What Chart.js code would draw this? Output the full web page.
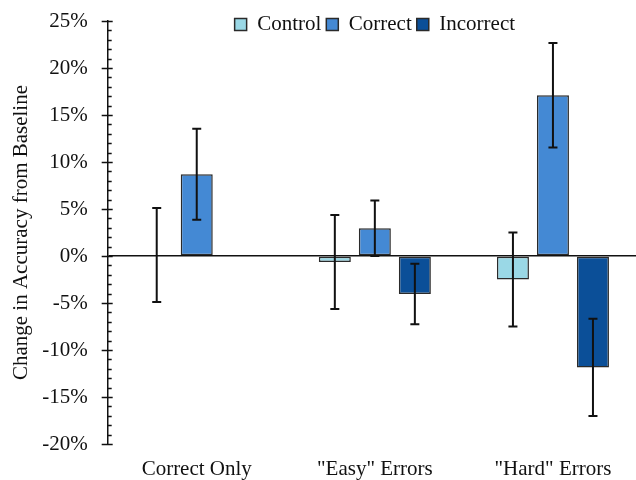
<!DOCTYPE html>
<html>
<head>
<meta charset="utf-8">
<script src="https://cdn.jsdelivr.net/npm/chart.js@4"></script>
<style>
  html, body { margin: 0; padding: 0; background: #fff; overflow: hidden; width: 636px; height: 480px; }
  #wrap { position: absolute; left: 0; top: 0; width: 642px; height: 480px; }
</style>
</head>
<body>
<div id="wrap"><canvas id="c"></canvas></div>
<script>
const categories = ['Correct Only', '"Easy" Errors', '"Hard" Errors'];
const seriesNames = ['Control', 'Correct', 'Incorrect'];
const controlValues = [0.1, -0.65, -2.5];
const controlErrors = [5.0, 5.0, 5.0];
const correctValues = [8.7, 2.95, 17.1];
const correctErrors = [4.85, 2.95, 5.55];
const incorrectValues = [null, -4.05, -11.85];
const incorrectErrors = [null, 3.22, 5.17];
const yTickMin = -20;
const yTickMax = 25;
const yTickStep = 5;
const yMinorStep = 1;

const FONT = 'Liberation Serif';
const TEXT = '#111';
const EDGE = '#2a2a2a';

const errorBars = {
  id: 'errorBars',
  afterDatasetsDraw(chart) {
    const ctx = chart.ctx;
    const y = chart.scales.y;
    ctx.save();
    ctx.strokeStyle = '#111';
    ctx.lineWidth = 2;
    chart.data.datasets.forEach((ds, di) => {
      const meta = chart.getDatasetMeta(di);
      meta.data.forEach((bar, i) => {
        const v = ds.data[i];
        const e = ds.errors[i];
        if (v === null || e === null) return;
        const x = bar.x;
        const yt = y.getPixelForValue(v + e);
        const yb = y.getPixelForValue(v - e);
        const cap = 4.5;
        ctx.beginPath();
        ctx.moveTo(x, yt); ctx.lineTo(x, yb);
        ctx.moveTo(x - cap, yt); ctx.lineTo(x + cap, yt);
        ctx.moveTo(x - cap, yb); ctx.lineTo(x + cap, yb);
        ctx.stroke();
      });
    });
    ctx.restore();
  }
};

const axisTicks = {
  id: 'axisTicks',
  afterDraw(chart) {
    const ctx = chart.ctx;
    const y = chart.scales.y;
    const x0 = chart.chartArea.left;
    ctx.save();
    ctx.strokeStyle = '#111';
    ctx.lineWidth = 1.3;
    ctx.beginPath();
    for (let v = yTickMin; v <= yTickMax; v += yMinorStep) {
      const py = Math.round(y.getPixelForValue(v)) + 0.5;
      const major = (v % yTickStep === 0);
      ctx.moveTo(major ? x0 - 6 : x0, py);
      ctx.lineTo(x0 + (major ? 5 : 4), py);
    }
    ctx.stroke();
    ctx.restore();
  }
};

const legendShift = {
  id: 'legendShift',
  beforeDraw(chart) {
    if (chart.legend) {
      chart.legend.top = 9;
      chart.legend.bottom = 40;
      chart.legend.height = 31;
    }
  }
};

new Chart(document.getElementById('c'), {
  type: 'bar',
  data: {
    labels: categories,
    datasets: [
      { label: seriesNames[0], data: controlValues, errors: controlErrors,
        backgroundColor: '#9ad8e6', borderColor: EDGE, borderWidth: 1.5, borderSkipped: false },
      { label: seriesNames[1], data: correctValues, errors: correctErrors,
        backgroundColor: '#4489d4', borderColor: EDGE, borderWidth: 1.5, borderSkipped: false },
      { label: seriesNames[2], data: incorrectValues, errors: incorrectErrors,
        backgroundColor: '#0b4f98', borderColor: EDGE, borderWidth: 1.5, borderSkipped: false }
    ]
  },
  options: {
    responsive: true,
    maintainAspectRatio: false,
    animation: false,
    devicePixelRatio: 1,
    layout: { padding: { left: 9, top: 20, right: 0, bottom: 0 } },
    datasets: { bar: { categoryPercentage: 0.674, barPercentage: 0.8 } },
    plugins: {
      legend: {
        position: 'top',
        fullSize: false,
        align: 'center',
        maxHeight: 1,
        labels: {
          boxWidth: 12, boxHeight: 12, padding: 5, color: TEXT,
          font: { family: FONT, size: 21 }
        }
      },
      tooltip: { enabled: false }
    },
    scales: {
      x: {
        grid: { display: true, drawOnChartArea: false, drawTicks: true, tickLength: 15,
                color: 'rgba(0,0,0,0)', tickColor: 'rgba(0,0,0,0)' },
        border: { display: false },
        ticks: { color: TEXT, padding: 0, font: { family: FONT, size: 21, lineHeight: 1.0 } }
      },
      y: {
        min: yTickMin, max: yTickMax,
        ticks: {
          stepSize: yTickStep, color: TEXT, padding: 0,
          font: { family: FONT, size: 21 },
          callback: v => v + '%'
        },
        grid: {
          drawOnChartArea: true,
          color: c => (c.tick && c.tick.value === 0) ? '#111' : 'rgba(0,0,0,0)',
          lineWidth: 1.5,
          tickColor: 'rgba(0,0,0,0)', tickLength: 20, tickWidth: 1
        },
        border: { display: true, color: '#111', width: 1.5 },
        title: {
          display: true, text: 'Change in Accuracy from Baseline', color: TEXT,
          font: { family: FONT, size: 21 }, padding: { top: 0, bottom: 8 }
        }
      }
    }
  },
  plugins: [errorBars, axisTicks, legendShift]
});
</script>
</body>
</html>
